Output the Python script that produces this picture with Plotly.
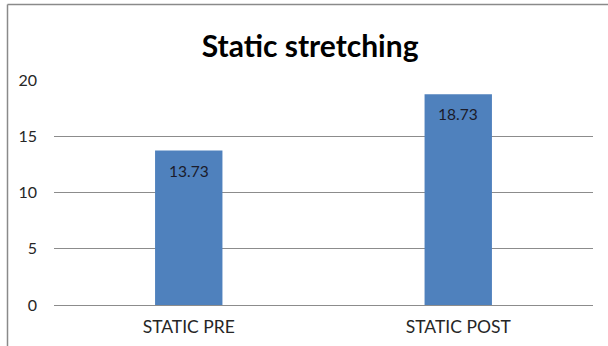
import plotly.graph_objects as go

categories = ["STATIC PRE", "STATIC POST"]
values = [13.73, 18.73]
value_labels = ["13.73", "18.73"]
y_ticks = [0, 5, 10, 15, 20]

W, H = 608, 346
L, R, T, B = 54, 15, 80, 41
pw, ph = W - L - R, H - T - B

fig = go.Figure()
fig.add_trace(go.Bar(
    x=categories, y=values,
    marker=dict(color="#4F81BD", line=dict(width=0)),
    width=0.25,
    hoverinfo="skip",
))

for c, v, t in zip(categories, values, value_labels):
    fig.add_annotation(x=c, y=v, text=t, showarrow=False, yshift=-20,
                       font=dict(family="Lato", size=15.5, color="#1b1b2a"))

def px_to_paper_x(px):
    return (px - L) / pw

def px_to_paper_y(py):
    return (H - B - py) / ph

shapes = [
    dict(type="line", xref="paper", yref="paper",
         x0=px_to_paper_x(7.5), x1=px_to_paper_x(W + 2),
         y0=px_to_paper_y(4.5), y1=px_to_paper_y(4.5),
         line=dict(color="#8a8a8a", width=1.5)),
    dict(type="line", xref="paper", yref="paper",
         x0=px_to_paper_x(7.5), x1=px_to_paper_x(7.5),
         y0=px_to_paper_y(4.5), y1=px_to_paper_y(H + 2),
         line=dict(color="#8a8a8a", width=1.5)),
]

fig.update_layout(
    width=W, height=H,
    margin=dict(l=L, r=R, t=T, b=B, pad=0, autoexpand=False),
    paper_bgcolor="white", plot_bgcolor="white",
    showlegend=False,
    bargap=0.75,
    shapes=shapes,
    title=dict(text="<b>Static stretching</b>", x=0.51, xanchor="center",
               y=1 - 46 / H, yanchor="middle",
               font=dict(family="Lato", size=30, color="#000000")),
    font=dict(family="Lato", size=16, color="#262626"),
)
fig.update_xaxes(showline=True, linecolor="#8c8c8c", linewidth=1,
                 showgrid=False, ticks="", ticklabelstandoff=6, automargin=False,
                 tickfont=dict(family="Lato", size=17.5, color="#262626"))
fig.update_yaxes(range=[0, 20], tickvals=y_ticks, showgrid=True,
                 gridcolor="#8c8c8c", gridwidth=1, zeroline=False,
                 showline=False, ticks="", ticklabelstandoff=16, automargin=False,
                 tickfont=dict(family="Lato", size=16, color="#262626"))

fig.write_html("out.html")
